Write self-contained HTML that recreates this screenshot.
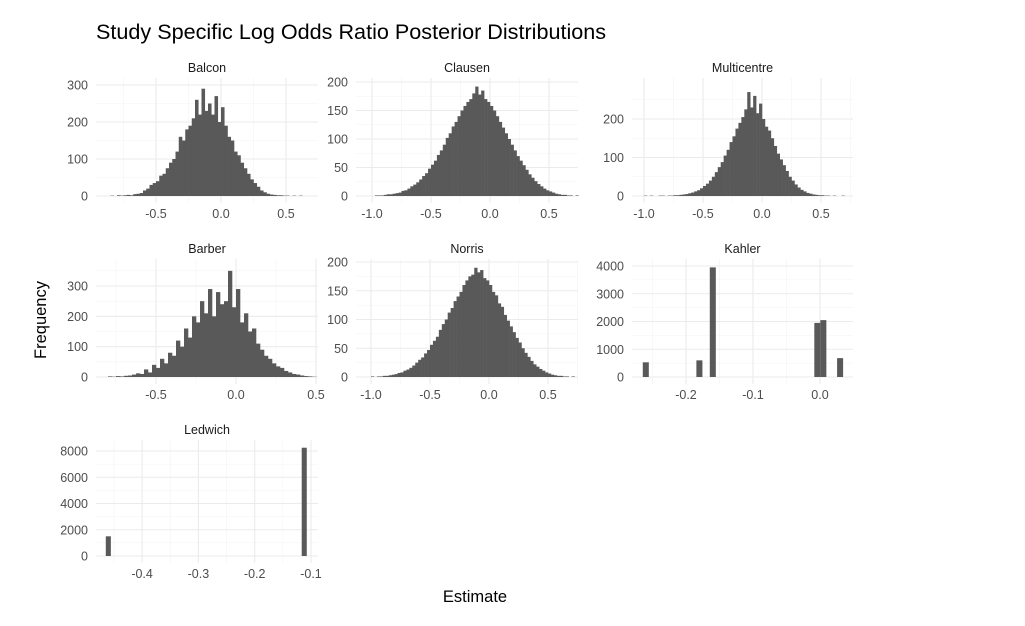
<!DOCTYPE html>
<html><head><meta charset="utf-8">
<style>
body{margin:0;background:#fff;}
svg{display:block;font-family:"Liberation Sans",sans-serif;}
</style></head>
<body>
<svg id="chart" width="1025" height="626" viewBox="0 0 1025 626">
<text x="96" y="39" font-size="21.6" fill="#000">Study Specific Log Odds Ratio Posterior Distributions</text>
<text x="46" y="320" font-size="16.5" fill="#000" text-anchor="middle" transform="rotate(-90 46 320)">Frequency</text>
<text x="475" y="602" font-size="16.5" fill="#000" text-anchor="middle">Estimate</text>
</svg>
<script>
// Binned counts (start, bin width, counts)
const balconStart = -0.85, balconBin = 0.025;
const balconCounts = [1,0,2,1,2,3,2,5,6,8,15,20,30,35,40,55,60,75,90,100,120,160,150,180,190,210,260,220,290,230,250,220,270,200,240,190,160,150,120,110,90,75,60,45,35,25,15,10,6,4,3,2,2,1,1,0,1,0,1,0];
const clausenStart = -1.05, clausenBin = 0.025;
const clausenCounts = [0,0,0,1,1,1,2,3,3,4,5,6,9,10,13,17,20,24,29,35,40,48,55,62,72,80,90,102,110,122,130,140,150,158,165,170,180,192,178,185,170,165,158,150,140,130,120,110,100,90,80,70,62,54,46,38,32,26,21,17,13,10,8,6,4,3,2,2,1,1,0,1];
const multiStart = -1.05, multiBin = 0.025;
const multiCounts = [0,0,1,0,1,0,0,1,1,0,1,1,2,2,3,4,5,7,9,12,15,20,26,32,40,50,62,75,88,105,120,140,155,175,190,205,225,270,230,260,215,240,200,180,170,150,130,110,95,80,65,50,40,30,22,16,12,8,6,4,3,2,2,1,1,0,1,0,0,1,0];
const barberStart = -0.8, barberBin = 0.025;
const barberCounts = [2,1,3,2,4,5,8,12,10,25,15,40,30,60,45,80,70,120,100,160,130,200,180,250,210,290,200,280,240,250,350,230,290,180,210,150,160,110,90,70,60,45,35,30,20,15,10,8,5,3,2,1];
const norrisStart = -1.05, norrisBin = 0.025;
const norrisCounts = [0,0,1,0,1,1,2,2,3,4,5,7,8,11,13,16,20,25,30,34,41,47,56,63,70,82,92,100,112,120,132,140,148,160,168,175,178,190,182,186,172,168,160,148,142,128,122,108,98,88,78,68,60,50,42,35,28,22,18,14,11,8,6,4,3,2,2,1,1,0,1,0];
// Discrete bars (centers, counts)
const kahlerX = [-0.26,-0.18,-0.16,-0.004,0.005,0.03];
const kahlerY = [530,600,3950,1950,2050,680];
const ledwichX = [-0.46,-0.112];
const ledwichY = [1500,8250];
// Tick labels
const balconXT = [-0.5,0,0.5], balconYT = [0,100,200,300];
const clausenXT = [-1,-0.5,0,0.5], clausenYT = [0,50,100,150,200];
const multiXT = [-1,-0.5,0,0.5], multiYT = [0,100,200];
const barberXT = [-0.5,0,0.5], barberYT = [0,100,200,300];
const norrisXT = [-1,-0.5,0,0.5], norrisYT = [0,50,100,150,200];
const kahlerXT = [-0.2,-0.1,0], kahlerYT = [0,1000,2000,3000,4000];
const ledwichXT = [-0.4,-0.3,-0.2,-0.1], ledwichYT = [0,2000,4000,6000,8000];

const NS='http://www.w3.org/2000/svg';
const svg=document.getElementById('chart');
function mk(tag,attrs,parent){const e=document.createElementNS(NS,tag);for(const k in attrs)e.setAttribute(k,attrs[k]);(parent||svg).appendChild(e);return e;}
function fmt(v,dec){return v.toFixed(dec);}

function panel(p){
  const g=mk('g',{});
  
  
  const sx=v=>p.x0+(v-p.xa)*p.kx;
  const sy=v=>p.y0-v*p.ky;
  const yTop=p.y0-(p.top), yBot=p.y0+7;
  const xstep=p.xt[1]-p.xt[0];
  for(let i=-1;i<p.xt.length;i++){const v=p.xt[0]+xstep*(i+0.5);const X=sx(v);if(X>p.L&&X<p.R){mk('line',{x1:X,x2:X,y1:yTop,y2:yBot,stroke:'#f3f3f3','stroke-width':0.6},g);}}
  const ystep=p.yt[1]-p.yt[0];
  for(let i=-1;i<p.yt.length;i++){const v=p.yt[0]+ystep*(i+0.5);const Y=sy(v);if(Y>yTop&&Y<yBot){mk('line',{x1:p.L,x2:p.R,y1:Y,y2:Y,stroke:'#f3f3f3','stroke-width':0.6},g);}}
  p.xt.forEach(v=>{const X=sx(v);mk('line',{x1:X,x2:X,y1:yTop,y2:yBot,stroke:'#ebebeb','stroke-width':1.1},g);
    const t=mk('text',{x:X,y:yBot+15,'font-size':12.5,fill:'#4d4d4d','text-anchor':'middle'},g);t.textContent=fmt(v,p.xd);
    
    });
  p.yt.forEach(v=>{const Y=sy(v);mk('line',{x1:p.L,x2:p.R,y1:Y,y2:Y,stroke:'#ebebeb','stroke-width':1.1},g);
    const t=mk('text',{x:p.L-8,y:Y+4.5,'font-size':12.5,fill:'#4d4d4d','text-anchor':'end'},g);t.textContent=String(v);
    
    });
  const s=mk('text',{x:(p.L+p.R)/2,y:yTop-6,'font-size':12.5,fill:'#1a1a1a','text-anchor':'middle'},g);s.textContent=p.title;
  
  
  if(p.counts){p.counts.forEach((c,i)=>{if(c<=0)return;const a=p.start+i*p.bin;const X1=sx(a),X2=sx(a+p.bin);
    const r=mk('rect',{x:X1,y:sy(c),width:X2-X1+0.3,height:c*p.ky,fill:'#595959'},g);
    
    });}
  if(p.bx){p.bx.forEach((cx,i)=>{const c=p.by[i];const X1=sx(cx-p.bw/2),X2=sx(cx+p.bw/2);
    const r=mk('rect',{x:X1,y:sy(c),width:X2-X1,height:c*p.ky,fill:'#595959'},g);
    
    });}
}
panel({slug:'balcon',title:'Balcon',L:96,R:318,x0:221,xa:0,kx:130,y0:196,ky:0.37,top:118,xt:balconXT,yt:balconYT,xd:1,start:balconStart,bin:balconBin,counts:balconCounts});
panel({slug:'clausen',title:'Clausen',L:356,R:578,x0:490,xa:0,kx:118,y0:196,ky:0.57,top:118,xt:clausenXT,yt:clausenYT,xd:1,start:clausenStart,bin:clausenBin,counts:clausenCounts});
panel({slug:'multicentre',title:'Multicentre',L:632,R:853,x0:762,xa:0,kx:118,y0:196,ky:0.385,top:118,xt:multiXT,yt:multiYT,xd:1,start:multiStart,bin:multiBin,counts:multiCounts});
panel({slug:'barber',title:'Barber',L:96,R:318,x0:236,xa:0,kx:160,y0:377,ky:0.3033,top:118,xt:barberXT,yt:barberYT,xd:1,start:barberStart,bin:barberBin,counts:barberCounts});
panel({slug:'norris',title:'Norris',L:356,R:578,x0:489,xa:0,kx:118,y0:377,ky:0.575,top:118,xt:norrisXT,yt:norrisYT,xd:1,start:norrisStart,bin:norrisBin,counts:norrisCounts});
panel({slug:'kahler',title:'Kahler',L:632,R:853,x0:820,xa:0,kx:670,y0:377,ky:0.02775,top:118,xt:kahlerXT,yt:kahlerYT,xd:1,bx:kahlerX,by:kahlerY,bw:0.009});
panel({slug:'ledwich',title:'Ledwich',L:96,R:318,x0:311,xa:-0.1,kx:563,y0:556,ky:0.013125,top:116,xt:ledwichXT,yt:ledwichYT,xd:1,bx:ledwichX,by:ledwichY,bw:0.009});
</script>
</body></html>
